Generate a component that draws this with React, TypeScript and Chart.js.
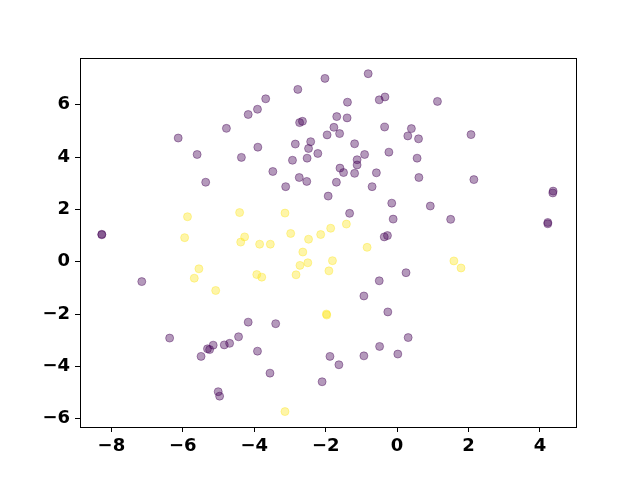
import React, { useEffect, useRef } from "react";
import { Chart, registerables } from "chart.js";

Chart.register(...registerables);

const purpleX = [-8.27, -8.27, -7.15, -6.13, -5.6, -5.36, -4.78, -4.36, -4.17, -2.02, -0.81, -2.78, -3.68, -3.91, -1.39, -0.5, -0.34, -2.73, -2.65, -1.69, -1.4, -1.77, -1.96, -1.61, -0.35, 0.4, 0.3, -3.9, -2.85, -2.42, -2.48, -2.52, -2.93, -2.22, -1.19, -0.23, -0.91, -1.12, -1.12, -1.6, -1.5, -1.19, -0.58, -3.48, -2.74, -2.53, -1.7, -3.12, -0.7, -1.93, -0.15, -0.11, -1.33, -0.36, -0.27, 0.6, 0.56, 1.13, 2.07, 0.61, 2.15, 4.37, 4.36, 0.93, 1.5, 4.22, 4.22, -6.37, -4.17, -4.44, -4.69, -4.84, -5.15, -5.25, -5.31, -5.49, -5.01, -4.97, -3.4, -3.91, -3.56, -2.1, -1.88, -1.63, -0.93, -0.49, 0.02, 0.31, -0.26, -0.93, -0.5, 0.25];
const purpleY = [1.05, 1.03, -0.76, 4.73, 4.1, 3.04, 5.1, 3.99, 5.63, 7.01, 7.19, 6.59, 6.23, 5.83, 6.1, 6.19, 6.3, 5.32, 5.37, 5.55, 5.5, 5.14, 4.85, 4.9, 5.15, 5.09, 4.81, 4.38, 4.5, 4.59, 4.33, 3.96, 3.88, 4.14, 4.51, 4.19, 4.1, 3.9, 3.7, 3.58, 3.41, 3.38, 3.4, 3.45, 3.22, 3.07, 3.04, 2.87, 2.87, 2.51, 2.24, 1.63, 1.85, 0.95, 1.0, 4.7, 3.96, 6.13, 4.86, 3.22, 3.14, 2.7, 2.63, 2.13, 1.62, 1.5, 1.45, -2.92, -2.31, -2.87, -3.12, -3.18, -3.19, -3.36, -3.33, -3.62, -4.97, -5.14, -2.37, -3.42, -4.26, -4.59, -3.62, -3.94, -3.6, -3.24, -3.53, -2.9, -1.92, -1.31, -0.73, -0.42];

const yellowX = [-5.87, -4.41, -5.95, -4.27, -4.38, -3.14, -1.42, -1.86, -2.14, -2.48, -2.98, -3.85, -3.55, -0.84, -5.55, -5.68, -5.08, -2.64, -2.72, -2.5, -2.83, -1.81, -1.91, -3.93, -3.79, -1.98, -1.97, -3.14, 1.59, 1.79];
const yellowY = [1.72, 1.88, 0.92, 0.95, 0.75, 1.86, 1.44, 1.28, 1.04, 0.86, 1.08, 0.67, 0.67, 0.55, -0.27, -0.63, -1.1, 0.37, -0.14, -0.04, -0.5, 0.04, -0.35, -0.49, -0.59, -2.0, -2.04, -5.73, 0.03, -0.24];

const xTicks = [-8, -6, -4, -2, 0, 2, 4];
const yTicks = [-6, -4, -2, 0, 2, 4, 6];
const xRange = [-8.88, 5.01];
const yRange = [-6.32, 7.79];

const PURPLE = "rgba(68, 1, 84, 0.4)";
const YELLOW = "rgba(253, 231, 37, 0.4)";

const framePlugin = {
  id: "frame",
  afterDatasetsDraw(chart: any) {
    const { ctx, chartArea } = chart;
    ctx.save();
    ctx.strokeStyle = "#000";
    ctx.lineWidth = 1;
    ctx.strokeRect(
      Math.round(chartArea.left) + 0.5,
      Math.round(chartArea.top) + 0.5,
      Math.round(chartArea.right - chartArea.left),
      Math.round(chartArea.bottom - chartArea.top)
    );
    ctx.restore();
  },
};

const fmt = (v: any) => String(v).replace("-", "\u2212");

export default function App() {
  const ref = useRef<HTMLCanvasElement>(null);
  useEffect(() => {
    const purple = purpleX.map((x, i) => ({ x, y: purpleY[i] }));
    const yellow = yellowX.map((x, i) => ({ x, y: yellowY[i] }));
    const tickFont = { family: "'DejaVu Sans', sans-serif", size: 18, weight: "bold" as const };
    const chart = new Chart(ref.current!, {
      type: "scatter",
      data: {
        datasets: [
          { data: purple, backgroundColor: PURPLE, borderColor: PURPLE, borderWidth: 1, pointRadius: 4 },
          { data: yellow, backgroundColor: YELLOW, borderColor: YELLOW, borderWidth: 1, pointRadius: 4 },
        ],
      },
      options: {
        animation: false,
        responsive: false,
        layout: { padding: { left: 0, top: 58, right: 64, bottom: 0 } },
        plugins: { legend: { display: false }, tooltip: { enabled: false } },
        scales: {
          x: {
            type: "linear",
            min: xRange[0],
            max: xRange[1],
            afterBuildTicks: (s: any) => { s.ticks = xTicks.map((v) => ({ value: v })); },
            afterFit: (s: any) => { s.height = 53; },
            grid: { drawOnChartArea: false, drawTicks: true, tickLength: 5, color: "#000", lineWidth: 1 },
            border: { display: false },
            ticks: { color: "#000", font: tickFont, padding: 4, maxRotation: 0, callback: (v: any) => fmt(v) },
          },
          y: {
            type: "linear",
            min: yRange[0],
            max: yRange[1],
            afterBuildTicks: (s: any) => { s.ticks = yTicks.map((v) => ({ value: v })); },
            afterFit: (s: any) => { s.width = 80; },
            grid: { drawOnChartArea: false, drawTicks: true, tickLength: 5, color: "#000", lineWidth: 1 },
            border: { display: false },
            ticks: { color: "#000", font: tickFont, padding: 5, callback: (v: any) => fmt(v) },
          },
        },
      },
      plugins: [framePlugin],
    });
    return () => chart.destroy();
  }, []);
  return (
    <div style={{ position: "absolute", left: 0, top: 0, width: 640, height: 480, background: "#fff" }}>
      <canvas ref={ref} width={640} height={480} style={{ width: 640, height: 480 }} />
    </div>
  );
}
